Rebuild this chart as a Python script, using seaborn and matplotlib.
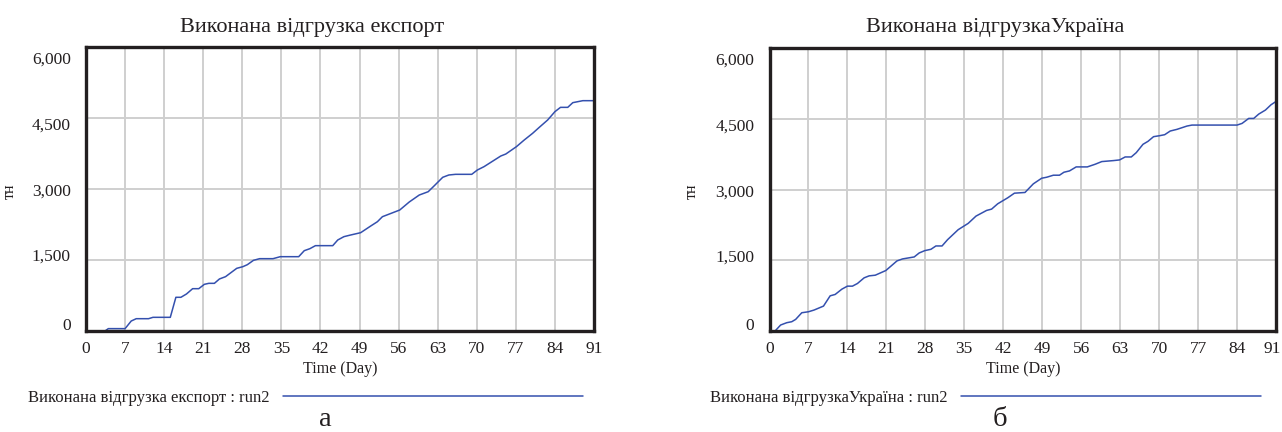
import numpy as np
import pandas as pd
import matplotlib
matplotlib.use("Agg")
import matplotlib.pyplot as plt
import matplotlib.transforms as mtransforms
import seaborn as sns

# ---- data ----
days_exp = [0, 3.4, 4.0, 7.0, 8.1, 9.0, 11.2, 12.0, 15.1, 16.1,
            17.0, 18.0, 19.1, 20.2, 21.2, 22.0, 23.0, 23.9, 25.0, 27.0,
            28.1, 28.9, 30.0, 31.1, 33.5, 34.8, 38.1, 39.1, 40.1, 41.1,
            44.2, 45.1, 46.2, 47.4, 49.2, 51.0, 52.2, 53.1, 56.2, 57.9,
            59.7, 61.3, 62.4, 63.9, 65.0, 66.2, 69.1, 70.1, 71.3, 74.3,
            75.2, 77.1, 78.5, 80.0, 81.2, 82.7, 84.0, 85.0, 86.3, 87.2,
            89.0, 91.0]
vals_exp = [0, 0, 50, 50, 211, 260, 260, 289, 289, 712,
            712, 782, 894, 894, 986, 1007, 1007, 1099, 1148, 1324,
            1359, 1401, 1493, 1528, 1528, 1570, 1570, 1697, 1739, 1803,
            1803, 1923, 1993, 2028, 2077, 2218, 2309, 2415, 2556, 2725,
            2873, 2943, 3070, 3247, 3296, 3310, 3310, 3401, 3472, 3697,
            3739, 3894, 4035, 4176, 4303, 4458, 4634, 4725, 4725, 4824,
            4866, 4866]

days_ua = [0, 1.0, 2.0, 3.1, 4.0, 4.7, 5.8, 7.0, 8.0, 9.7,
           10.9, 11.8, 13.0, 14.0, 14.9, 15.8, 17.0, 17.9, 19.0, 20.9,
           22.0, 22.9, 23.9, 26.0, 26.9, 27.9, 29.0, 29.9, 31.0, 32.0,
           33.9, 35.7, 37.1, 39.0, 39.9, 41.0, 42.8, 44.0, 45.9, 47.4,
           48.9, 49.8, 51.0, 52.1, 52.9, 53.9, 55.1, 57.1, 58.5, 59.7,
           61.8, 62.9, 63.9, 65.0, 65.9, 67.1, 68.0, 69.0, 70.1, 71.0,
           72.0, 73.2, 75.0, 75.9, 84.0, 84.9, 86.1, 87.0, 87.9, 89.1,
           90.1, 91.0]
vals_ua = [0, 0, 127, 176, 197, 246, 387, 408, 444, 528,
           746, 775, 887, 951, 951, 1007, 1127, 1169, 1183, 1282,
           1394, 1486, 1528, 1570, 1655, 1704, 1732, 1803, 1803, 1937,
           2148, 2282, 2436, 2556, 2584, 2697, 2824, 2922, 2937, 3120,
           3239, 3260, 3303, 3303, 3366, 3394, 3479, 3479, 3535, 3592,
           3613, 3627, 3690, 3690, 3782, 3958, 4021, 4120, 4141, 4162,
           4240, 4275, 4345, 4366, 4366, 4401, 4507, 4507, 4599, 4684,
           4796, 4866]

x_ticks = list(range(0, 92, 7))
y_ticks = [0, 1500, 3000, 4500, 6000]
y_tick_labels = ["0", "1,500", "3,000", "4,500", "6,000"]

titles = ["Виконана відгрузка експорт", "Виконана відгрузкаУкраїна"]
legend_labels = ["Виконана відгрузка експорт : run2", "Виконана відгрузкаУкраїна : run2"]
panel_letters = ["а", "б"]
x_label = "Time (Day)"
y_label = "тн"

# ---- style ----
sns.set_style("white")
plt.rcParams["font.family"] = ["Liberation Serif", "DejaVu Serif"]
LINE_COLOR = "#3450ae"
TEXT_COLOR = "#231f20"

fig = plt.figure(figsize=(12.82, 4.32), dpi=100)
W, H = 1282, 432

axes_px = [(86, 47, 594, 331), (769.5, 48, 1276, 331)]
title_x = [312, 995]
ylabel_x = [17.5, 700]
letter_x = [325, 1000]
legend_px = [(28, 584), (710, 1266)]
# label offsets (px, downward) to mimic the reference's tick label spacing
y_label_shift = [-7, -5, 1, 5.5, 11]

series = [(days_exp, vals_exp), (days_ua, vals_ua)]

for i, (d, v) in enumerate(series):
    x0, y0, x1, y1 = axes_px[i]
    ax = fig.add_axes([x0 / W, 1 - y1 / H, (x1 - x0) / W, (y1 - y0) / H])
    df = pd.DataFrame({"day": d, "value": v})
    sns.lineplot(data=df, x="day", y="value", ax=ax, color=LINE_COLOR,
                 linewidth=1.1, label=legend_labels[i])
    ax.set_xlim(0, 91)
    ax.set_ylim(0, 6000)
    ax.set_xticks(x_ticks)
    ax.set_yticks(y_ticks)
    ax.set_yticklabels(y_tick_labels)
    ax.grid(True, color="#cfcfcf", linewidth=1.4)
    ax.set_axisbelow(True)
    for s in ax.spines.values():
        s.set_visible(True)
        s.set_color(TEXT_COLOR)
        s.set_linewidth(2.4)
    ax.tick_params(axis="both", length=0, labelsize=12.5, colors=TEXT_COLOR)
    ax.tick_params(axis="x", pad=7)
    ax.tick_params(axis="y", pad=11)
    for lab, sh in zip(ax.get_yticklabels(), y_label_shift):
        off = mtransforms.ScaledTranslation(0, -sh / 100.0, fig.dpi_scale_trans)
        lab.set_transform(lab.get_transform() + off)
    if i == 1:
        last = ax.get_xticklabels()[-1]
        off = mtransforms.ScaledTranslation(-0.04, 0, fig.dpi_scale_trans)
        last.set_transform(last.get_transform() + off)
    ax.set_xlabel(x_label, fontsize=11.5, color=TEXT_COLOR, labelpad=3)
    ax.set_ylabel(y_label, fontsize=11.5, color=TEXT_COLOR)
    ax.yaxis.set_label_coords((ylabel_x[i] - x0) / (x1 - x0), (y1 - 191) / (y1 - y0))

    # legend below the plot: text first, then the sample line
    lx0, lx1 = legend_px[i]
    leg = ax.legend(loc="center left", bbox_to_anchor=(lx0 / W, 1 - 398 / H),
                    bbox_transform=fig.transFigure, frameon=False,
                    markerfirst=False, fontsize=12, handlelength=18.0,
                    handletextpad=0.8, borderaxespad=0, borderpad=0)
    for t in leg.get_texts():
        t.set_color(TEXT_COLOR)

    fig.text(title_x[i] / W, 1 - 32 / H, titles[i], ha="center", va="baseline",
             fontsize=16, color=TEXT_COLOR)
    fig.text(letter_x[i] / W, 1 - 426 / H, panel_letters[i], ha="center",
             va="baseline", fontsize=20.5, color=TEXT_COLOR)

fig.savefig("out.png", dpi=100)
